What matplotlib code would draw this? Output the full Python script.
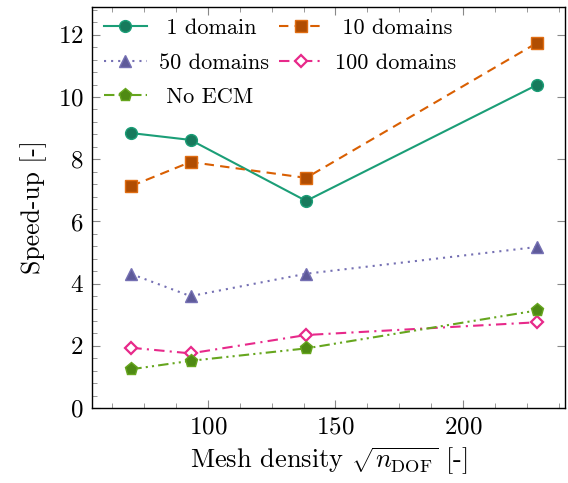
import numpy as np
import matplotlib
matplotlib.use('Agg')
import matplotlib.pyplot as plt
from matplotlib.ticker import MultipleLocator

plt.rcParams['font.family'] = 'cmr10'
plt.rcParams['mathtext.fontset'] = 'cm'
plt.rcParams['axes.unicode_minus'] = False
plt.rcParams['axes.formatter.use_mathtext'] = True

# sqrt(n_DOF) for the four meshes
mesh = [70.0, 93.2, 138.5, 229.0]

speedup_1 = [8.84, 8.62, 6.66, 10.39]
speedup_10 = [7.14, 7.91, 7.40, 11.74]
speedup_50 = [4.31, 3.60, 4.32, 5.18]
speedup_100 = [1.94, 1.76, 2.35, 2.76]
speedup_noecm = [1.25, 1.52, 1.92, 3.14]

fs = 18.5

fig = plt.figure(figsize=(5.68, 4.83), dpi=100)
ax = fig.add_axes([0.162, 0.155, 0.833, 0.831])

lw = 1.5
ms = 8.5
l1, = ax.plot(mesh, speedup_1, '-', color='#1b9e77', lw=lw, marker='o', ms=ms,
              mfc='#177a5c', mec='#1b9e77', label='1 domain')
l10, = ax.plot(mesh, speedup_10, '--', color='#d95f02', lw=lw, marker='s', ms=ms,
               mfc='#b04d02', mec='#e06d12', label='10 domains', dashes=(4.5, 3))
l50, = ax.plot(mesh, speedup_50, ':', color='#7570b3', lw=lw, marker='^', ms=ms + 0.5,
               mfc='#5e5a99', mec='#7570b3', label='50 domains', dashes=(1, 2.4))
l100, = ax.plot(mesh, speedup_100, '-.', color='#e7298a', lw=lw, marker='D', ms=6.5,
                mfc='white', mec='#e7298a', mew=1.6, label='100 domains',
                dashes=(5, 2.5, 1, 2.5))
lno, = ax.plot(mesh, speedup_noecm, color='#66a61e', lw=lw, marker='p', ms=ms + 1,
               mfc='#4f8a14', mec='#66a61e', label='No ECM',
               dashes=(5, 2, 1, 2, 1, 2))

ax.set_xlim(54.6, 240.0)
ax.set_ylim(0, 12.9)
ax.xaxis.set_major_locator(MultipleLocator(50))
ax.xaxis.set_minor_locator(MultipleLocator(12.5))
ax.yaxis.set_major_locator(MultipleLocator(2))
ax.yaxis.set_minor_locator(MultipleLocator(0.4))
ax.tick_params(which='both', direction='in', top=True, right=True, labelsize=18)
ax.tick_params(which='major', length=6, color='#888888', pad=6)
ax.tick_params(which='minor', length=3.5, color='#888888', right=False)
for s in ax.spines.values():
    s.set_linewidth(1.0)

ax.set_xlabel(r'Mesh density $\sqrt{n_{\mathrm{DOF}}}$ [-]', fontsize=19, labelpad=5)
ax.set_ylabel('Speed-up [-]', fontsize=fs, labelpad=8)

# row-wise legend order with two columns
ax.legend([l1, l50, lno, l10, l100],
          [' 1 domain', '50 domains', ' No ECM', ' 10 domains', '100 domains'],
          ncol=2, loc='upper left', frameon=False, fontsize=16,
          handlelength=1.95, columnspacing=0.45, handletextpad=0.55,
          labelspacing=0.68, borderaxespad=0.2, borderpad=0.32)

fig.savefig('out.png', dpi=100)
